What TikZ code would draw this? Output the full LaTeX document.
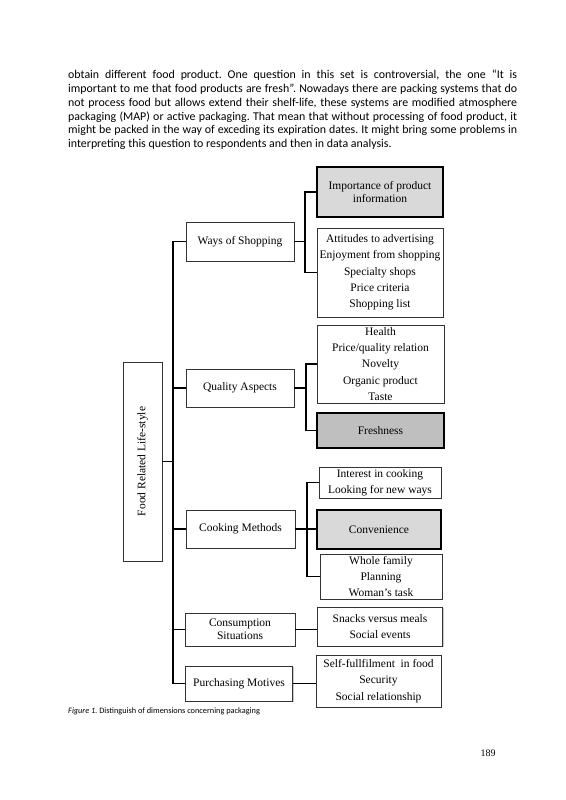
\documentclass[tikz,border=0pt]{standalone}
\usepackage{fontspec}
\setmainfont{Liberation Serif}
\newfontfamily\calib{Carlito}
\usetikzlibrary{shadows}
\begin{document}
\frenchspacing
\begin{tikzpicture}[x=1pt,y=-1pt,
  box/.style={draw=black!80, line width=0.6pt, fill=white, inner sep=1pt, align=center,
    font=\fontsize{11.5}{16.3}\selectfont,
    drop shadow={shadow xshift=1.2pt, shadow yshift=-1.2pt, fill=black!35, opacity=0.6}},
  hbox/.style={box, line width=1.8pt, draw=black},
  tight/.style={font=\fontsize{11.5}{12.8}\selectfont},
  conn/.style={line width=1.6pt, line join=miter},
]
\useasboundingbox[fill=white] (0,0) rectangle (565,800);

% text
\node[anchor=north west, inner sep=0pt, align=left, font=\calib\fontsize{11.9}{13.8}\selectfont] (para) at (68,70) {%
\makebox[449pt][s]{obtain different food product. One question in this set is controversial, the one “It is}\\
\makebox[449pt][s]{important to me that food products are fresh”. Nowadays there are packing systems that do}\\
\makebox[449pt][s]{not process food but allows extend their shelf-life, these systems are modified atmosphere}\\
\makebox[449pt][s]{packaging (MAP) or active packaging. That mean that without processing of food product, it}\\
\makebox[449pt][s]{might be packed in the way of exceding its expiration dates. It might bring some problems in}\\
interpreting this question to respondents and then in data analysis.};

% root
\node[box, rotate=90, minimum width=199pt, minimum height=39pt] (root) at (142.5,461.5) {Food Related Life-style};

% level 1
\node[box, minimum width=108pt, minimum height=39pt] (ways) at (240,241.5) {Ways of Shopping};
\node[box, minimum width=108pt, minimum height=38pt] (qual) at (240,388) {Quality Aspects};
\node[box, minimum width=109pt, minimum height=38pt] (cook) at (240.5,529) {Cooking Methods};
\node[box, tight, minimum width=110pt, minimum height=33pt] (cons) at (240,629.5) {Consumption\\Situations};
\node[box, minimum width=107pt, minimum height=35pt] (purc) at (239,683.5) {Purchasing Motives};

% level 2
\node[hbox, tight, fill=black!15, minimum width=126pt, minimum height=50pt] (imp) at (380,192) {Importance of product\\information};
\node[box, minimum width=126pt, minimum height=89pt] (att) at (380,272.5) {Attitudes to advertising\\Enjoyment from shopping\\Specialty shops\\Price criteria\\Shopping list};
\node[box, minimum width=127pt, minimum height=78pt] (hea) at (380.5,364) {Health\\Price/quality relation\\Novelty\\Organic product\\Taste};
\node[hbox, fill=black!25, minimum width=127pt, minimum height=35pt] (fre) at (380.5,430.5) {Freshness};
\node[box, minimum width=122pt, minimum height=31pt] (int) at (380,482.5) {Interest in cooking\\Looking for new ways};
\node[hbox, fill=black!15, minimum width=124pt, minimum height=39pt] (con) at (379,529.5) {Convenience};
\node[box, minimum width=122pt, minimum height=45pt] (who) at (381,576.5) {Whole family\\Planning\\Woman's task};
\node[box, minimum width=125pt, minimum height=39pt] (sna) at (380,626.5) {Snacks versus meals\\Social events};
\node[box, minimum width=125pt, minimum height=52pt] (sel) at (378.5,681) {Self-fullfilment\ \ in food\\Security\\Social relationship};

% connectors
\coordinate (tr) at (173,0);
\coordinate (b1) at (305,0);
\coordinate (b2) at (306,0);
\coordinate (b3) at (307,0);
\draw[conn] (ways.west) -- (ways.west -| tr) -- (purc.west -| tr) -- (purc.west);
\foreach \n in {qual,cook,cons} \draw[conn] (\n.west) -- (\n.west -| tr);
\draw[conn] (root.south) -- (root.south -| tr);

\draw[conn] (ways.east) -- (ways.east -| b1);
\draw[conn] (imp.west) -- (imp.west -| b1) -- (att.west -| b1) -- (att.west);

\draw[conn] (qual.east) -- (qual.east -| b2);
\draw[conn] (hea.west) -- (hea.west -| b2) -- (fre.west -| b2) -- (fre.west);

\draw[conn] (cook.east) -- (cook.east -| con.west);
\draw[conn] (int.west) -- (int.west -| b3) -- (who.west -| b3) -- (who.west);

\draw[conn] (cons.east) -- (cons.east -| sna.west);
\draw[conn] (purc.east) -- (purc.east -| sel.west);

% caption and page number
\node[anchor=base west, inner sep=0pt, font=\calib\fontsize{8.3}{10}\selectfont] (cap) at (68,713) {\textit{Figure 1.} Distinguish of dimensions concerning packaging};
\node[inner sep=0pt, font=\fontsize{10}{12}\selectfont] (pg) at (488,753) {189};
\end{tikzpicture}
\end{document}
